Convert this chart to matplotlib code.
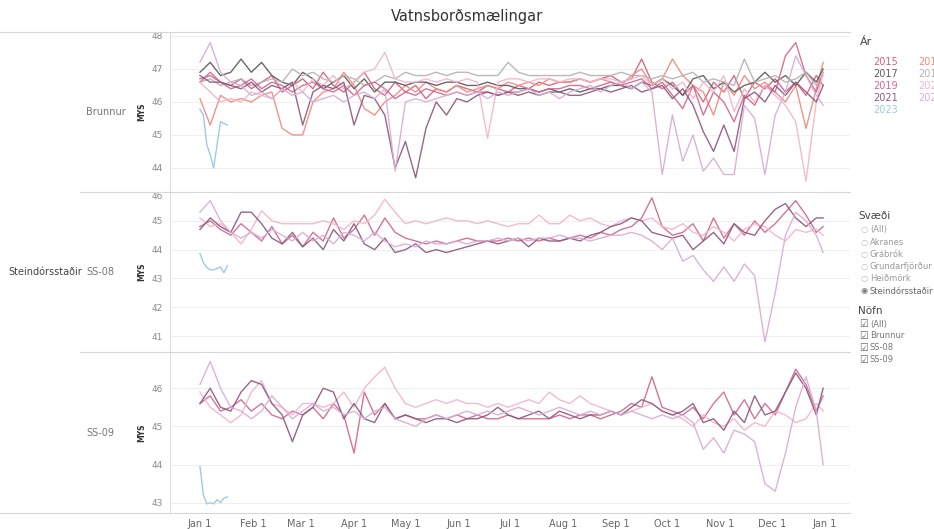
import matplotlib.pyplot as plt
from matplotlib.lines import Line2D

# --- data ---------------------------------------------------------------
# day of year (0 = Jan 1), sampled every 6 days
days = list(range(0, 361, 6)) + [364]
blue_days = [0, 2, 4, 6, 8, 10, 12, 14, 16]

years = ['2015', '2016', '2017', '2018', '2019', '2020', '2021', '2022', '2023']
year_colors = ['#d95f7b', '#f08a80', '#5c5c5c', '#b9b1b1', '#d2688e',
               '#f3b5c7', '#8d5a80', '#d7aed3', '#9dcbe7']

month_days = [0, 31, 59, 90, 120, 151, 181, 212, 243, 273, 304, 334, 365]
month_labels = ['Jan 1', 'Feb 1', 'Mar 1', 'Apr 1', 'May 1', 'Jun 1', 'Jul 1',
                'Aug 1', 'Sep 1', 'Oct 1', 'Nov 1', 'Dec 1', 'Jan 1']

brunnur_2015 = [46.7, 46.8, 46.6, 46.5, 46.7, 46.4, 46.6, 46.8, 46.3, 46.5,
                46.7, 46.4, 46.9, 46.5, 46.3, 46.6, 46.9, 46.4, 46.2, 46.6,
                46.3, 46.5, 46.1, 46.4, 46.3, 46.5, 46.4, 46.3, 46.5, 46.4,
                46.3, 46.5, 46.4, 46.6, 46.5, 46.6, 46.6, 46.7, 46.6, 46.7,
                46.8, 46.6, 46.7, 47.3, 46.6, 46.4, 46.6, 46.2, 46.5, 46.0,
                46.6, 46.3, 46.8, 46.1, 46.6, 46.4, 46.7, 46.3, 46.6, 46.2,
                46.8, 46.5]
brunnur_2016 = [46.1, 45.3, 46.2, 46.0, 46.1, 46.0, 46.2, 46.3, 45.2, 45.0,
                45.0, 46.0, 46.3, 46.4, 46.9, 46.5, 45.8, 45.6, 46.0, 46.2,
                46.5, 46.3, 46.6, 46.4, 46.3, 46.5, 46.3, 46.4, 46.5, 46.4,
                46.6, 46.5, 46.6, 46.5, 46.7, 46.6, 46.6, 46.7, 46.6, 46.7,
                46.6, 46.5, 46.8, 47.0, 46.5, 46.7, 47.3, 46.8, 46.5, 46.3,
                45.6, 46.6, 46.2, 46.8, 46.4, 46.6, 46.3, 46.0, 46.5, 45.2,
                46.4, 47.2]
brunnur_2017 = [46.9, 47.2, 46.8, 46.9, 47.3, 46.9, 47.2, 46.8, 46.6, 46.5,
                46.9, 46.7, 46.4, 46.6, 46.8, 46.4, 46.7, 46.3, 46.6, 46.6,
                46.5, 46.6, 46.6, 46.5, 46.6, 46.6, 46.5, 46.5, 46.6, 46.5,
                46.5, 46.4, 46.4, 46.3, 46.4, 46.3, 46.4, 46.3, 46.4, 46.4,
                46.5, 46.5, 46.4, 46.6, 46.5, 46.7, 46.5, 46.2, 46.7, 46.8,
                46.4, 46.6, 46.3, 46.5, 46.6, 46.9, 46.6, 46.8, 46.5, 46.9,
                46.6, 47.0]
brunnur_2018 = [46.6, 46.7, 46.5, 46.6, 46.7, 46.5, 46.6, 46.7, 46.6, 47.0,
                46.8, 46.9, 46.7, 46.6, 46.8, 46.7, 46.5, 46.6, 46.8, 46.7,
                46.9, 46.8, 46.8, 46.9, 46.8, 46.9, 46.9, 46.8, 46.8, 46.8,
                47.2, 46.9, 46.8, 46.8, 46.8, 46.8, 46.8, 46.9, 46.8, 46.8,
                46.8, 46.9, 46.8, 46.8, 46.7, 46.8, 46.7, 46.8, 46.9, 46.6,
                46.7, 46.6, 46.5, 47.3, 46.6, 46.7, 46.8, 46.6, 46.7, 46.9,
                46.5, 46.8]
brunnur_2019 = [46.6, 46.9, 46.6, 46.4, 46.5, 46.7, 46.4, 46.6, 46.5, 46.3,
                46.5, 46.6, 46.4, 46.3, 46.5, 46.2, 46.5, 46.6, 46.4, 46.1,
                46.3, 46.2, 46.4, 46.3, 46.2, 46.3, 46.2, 46.3, 46.3, 46.2,
                46.3, 46.3, 46.4, 46.3, 46.4, 46.4, 46.5, 46.5, 46.4, 46.5,
                46.6, 46.5, 46.6, 46.7, 46.4, 46.6, 46.2, 45.8, 46.5, 45.6,
                46.3, 46.0, 45.4, 46.2, 45.9, 46.5, 46.3, 47.4, 47.8, 46.8,
                46.3, 46.9]
brunnur_2020 = [46.6, 46.3, 46.0, 46.1, 46.0, 46.3, 46.2, 46.1, 46.4, 46.6,
                46.3, 46.7, 46.5, 46.8, 46.4, 46.6, 46.9, 47.0, 47.5, 46.7,
                46.6, 46.6, 46.7, 46.6, 46.7, 46.6, 46.7, 46.6, 44.9, 46.6,
                46.7, 46.7, 46.6, 46.7, 46.7, 46.6, 46.7, 46.7, 46.6, 46.7,
                46.7, 46.6, 46.7, 46.8, 46.5, 46.7, 46.4, 46.6, 46.1, 46.6,
                46.3, 46.8, 45.7, 46.4, 46.0, 46.5, 46.2, 45.9, 45.4, 43.6,
                46.0, 46.9]
brunnur_2021 = [46.8, 46.6, 46.6, 46.5, 46.4, 46.6, 46.3, 46.5, 46.4, 46.6,
                45.3, 46.3, 46.5, 46.4, 46.6, 45.3, 46.2, 46.1, 45.6, 44.0,
                44.8, 43.7, 45.2, 46.0, 45.6, 46.1, 46.0, 46.2, 46.3, 46.2,
                46.3, 46.2, 46.3, 46.2, 46.3, 46.3, 46.2, 46.2, 46.3, 46.4,
                46.3, 46.4, 46.5, 46.3, 46.4, 46.5, 46.1, 46.4, 45.9, 45.1,
                44.5, 45.3, 44.5, 46.1, 46.3, 46.0, 46.5, 46.2, 46.6, 46.3,
                46.0, 46.5]
brunnur_2022 = [47.2, 47.8, 46.9, 46.6, 46.5, 46.2, 46.3, 46.1, 46.4, 46.2,
                46.3, 46.0, 46.1, 46.2, 46.0, 46.2, 46.3, 46.1, 46.4, 43.9,
                46.0, 46.1, 46.0, 46.1, 46.2, 46.3, 46.2, 46.3, 46.1, 46.3,
                46.2, 46.3, 46.4, 46.2, 46.3, 46.1, 46.3, 46.4, 46.5, 46.3,
                46.5, 46.6, 46.4, 46.6, 46.3, 43.8, 45.6, 44.2, 45.0, 43.9,
                44.3, 43.8, 43.8, 45.9, 45.5, 43.8, 45.6, 46.3, 47.4, 46.8,
                46.2, 45.9]
brunnur_2023 = [45.78, 45.6, 44.7, 44.4, 44.0, 44.7, 45.4, 45.35, 45.3]

ss08_2019 = [44.8, 45.0, 44.7, 44.5, 44.9, 44.6, 44.3, 44.8, 44.2, 44.5,
             44.1, 44.6, 44.3, 45.1, 44.4, 44.7, 45.2, 44.5, 45.1, 44.6,
             44.4, 44.3, 44.2, 44.3, 44.2, 44.3, 44.4, 44.3, 44.3, 44.3,
             44.4, 44.3, 44.4, 44.3, 44.4, 44.3, 44.4, 44.5, 44.4, 44.6,
             44.5, 44.7, 44.8, 45.1, 45.8, 44.8, 44.5, 44.6, 44.9, 44.3,
             45.1, 44.4, 44.9, 44.5, 45.0, 44.6, 44.9, 45.3, 45.7, 45.2,
             44.6, 44.8]
ss08_2020 = [45.1, 44.8, 44.9, 44.6, 44.2, 44.7, 45.35, 45.0, 44.9, 44.9,
             44.9, 44.9, 45.0, 44.9, 44.7, 45.0, 44.9, 45.2, 45.75, 45.3,
             44.9, 45.0, 44.9, 45.0, 45.1, 45.0, 45.0, 44.9, 45.0, 44.9,
             44.8, 44.9, 44.9, 45.2, 44.9, 44.9, 45.2, 45.0, 45.1, 44.9,
             44.8, 45.0, 45.1, 45.0, 45.1, 44.8, 44.7, 44.9, 44.6, 44.5,
             44.8, 44.6, 44.3, 44.7, 44.9, 44.8, 44.5, 44.3, 44.7, 44.6,
             44.7, 44.5]
ss08_2021 = [44.7, 45.1, 44.8, 44.6, 45.3, 45.3, 44.9, 44.4, 44.2, 44.6,
             44.1, 44.4, 44.0, 44.7, 44.3, 44.9, 44.2, 44.0, 44.4, 43.9,
             44.0, 44.2, 43.9, 44.0, 43.9, 44.0, 44.1, 44.2, 44.3, 44.2,
             44.3, 44.4, 44.1, 44.4, 44.3, 44.3, 44.4, 44.3, 44.5, 44.6,
             44.8, 44.9, 45.1, 45.0, 44.6, 44.5, 44.4, 44.5, 44.0, 44.3,
             44.6, 44.2, 44.9, 44.6, 44.5, 45.0, 45.4, 45.6, 45.1, 44.8,
             45.1, 45.1]
ss08_2022 = [45.3, 45.7, 45.0, 44.6, 44.4, 44.6, 44.4, 44.7, 44.5, 44.3,
             44.6, 44.3, 44.5, 44.2, 44.6, 44.5, 44.3, 44.6, 44.3, 44.1,
             44.2, 44.1, 44.3, 44.2, 44.2, 44.3, 44.2, 44.3, 44.3, 44.4,
             44.3, 44.4, 44.3, 44.4, 44.4, 44.5, 44.4, 44.4, 44.3, 44.4,
             44.5, 44.5, 44.6, 44.5, 44.3, 44.0, 44.4, 43.6, 43.8, 43.3,
             42.9, 43.4, 42.9, 43.5, 43.1, 40.8, 42.5, 44.5, 45.3, 45.0,
             44.5, 43.9]
ss08_2023 = [43.87, 43.55, 43.38, 43.3, 43.3, 43.35, 43.4, 43.2, 43.45]

ss09_2019 = [45.6, 45.8, 45.4, 45.5, 45.7, 45.4, 45.6, 45.3, 45.2, 45.4,
             45.3, 45.5, 45.2, 45.6, 45.3, 44.3, 45.9, 45.3, 45.6, 45.2,
             45.3, 45.2, 45.2, 45.3, 45.2, 45.3, 45.2, 45.3, 45.2, 45.2,
             45.3, 45.2, 45.2, 45.2, 45.2, 45.3, 45.2, 45.3, 45.3, 45.2,
             45.3, 45.4, 45.6, 45.5, 46.3, 45.5, 45.4, 45.3, 45.5, 45.2,
             45.6, 45.9, 45.3, 45.7, 45.2, 45.6, 45.3, 45.9, 46.5, 46.1,
             45.4, 45.8]
ss09_2020 = [45.9, 45.5, 45.3, 45.1, 45.3, 45.9, 46.2, 45.6, 45.5, 45.3,
             45.6, 45.6, 45.5, 45.6, 45.9, 45.5, 46.0, 46.3, 46.55, 46.0,
             45.6, 45.5, 45.6, 45.7, 45.6, 45.7, 45.6, 45.6, 45.5, 45.6,
             45.5, 45.6, 45.7, 45.6, 45.9, 45.7, 45.6, 45.8, 45.6, 45.5,
             45.4, 45.3, 45.4, 45.5, 45.6, 45.4, 45.3, 45.2, 45.0, 45.3,
             45.1, 45.0, 45.2, 44.9, 45.1, 45.0, 45.4, 45.3, 45.1, 45.2,
             45.6, 45.4]
ss09_2021 = [45.6, 46.0, 45.5, 45.4, 45.9, 46.2, 46.1, 45.6, 45.3, 44.6,
             45.3, 45.5, 46.0, 45.9, 45.2, 45.6, 45.2, 45.1, 45.6, 45.2,
             45.3, 45.2, 45.1, 45.2, 45.2, 45.1, 45.2, 45.2, 45.3, 45.5,
             45.3, 45.2, 45.3, 45.4, 45.2, 45.4, 45.3, 45.2, 45.3, 45.3,
             45.4, 45.3, 45.5, 45.7, 45.6, 45.4, 45.3, 45.4, 45.6, 45.1,
             45.2, 44.9, 45.4, 45.1, 45.8, 45.3, 45.4, 45.9, 46.4, 46.0,
             45.3, 46.0]
ss09_2022 = [46.1, 46.7, 46.0, 45.5, 45.4, 45.2, 45.4, 45.8, 45.5, 45.2,
             45.4, 45.6, 45.4, 45.5, 45.3, 45.4, 45.2, 45.4, 45.5, 45.2,
             45.1, 45.0, 45.2, 45.3, 45.2, 45.3, 45.4, 45.3, 45.4, 45.3,
             45.4, 45.5, 45.4, 45.3, 45.4, 45.5, 45.4, 45.3, 45.4, 45.3,
             45.4, 45.3, 45.4, 45.3, 45.2, 45.3, 45.2, 45.3, 45.1, 44.4,
             44.7, 44.3, 44.9, 44.8, 44.6, 43.5, 43.3, 44.3, 45.5, 46.3,
             45.4, 44.0]
ss09_2023 = [43.95, 43.2, 42.97, 43.0, 42.97, 43.08, 43.0, 43.12, 43.15]

brunnur_ticks = [44, 45, 46, 47, 48]
ss08_ticks = [41, 42, 43, 44, 45, 46]
ss09_ticks = [43, 44, 45, 46]

svaedi_options = ['(All)', 'Akranes', 'Grábrók', 'Grundarfjörður', 'Heiðmörk', 'Steindórsstaðir']
nofn_options = ['(All)', 'Brunnur', 'SS-08', 'SS-09']

# --- figure -------------------------------------------------------------
W, H = 934, 529
fig = plt.figure(figsize=(W / 100, H / 100), dpi=100)


def fx(px):
    return px / W


def fy(py):
    return 1 - py / H


panels = [
    ('Brunnur', 32, 192, (43.27, 48.12), brunnur_ticks,
     [brunnur_2015, brunnur_2016, brunnur_2017, brunnur_2018, brunnur_2019,
      brunnur_2020, brunnur_2021, brunnur_2022], years[:8], brunnur_2023),
    ('SS-08', 192, 352, (40.45, 46.0), ss08_ticks,
     [ss08_2019, ss08_2020, ss08_2021, ss08_2022], years[4:8], ss08_2023),
    ('SS-09', 352, 513, (42.73, 46.95), ss09_ticks,
     [ss09_2019, ss09_2020, ss09_2021, ss09_2022], years[4:8], ss09_2023),
]

grid_col = '#efefef'
sep_col = '#d6d6d6'

for k, (name, top, bottom, ylim, ticks, series, yrs, blue) in enumerate(panels):
    ax = fig.add_axes([fx(170), fy(bottom), fx(850) - fx(170), (bottom - top) / H])
    for vals, yr in zip(series, yrs):
        c = year_colors[years.index(yr)]
        ax.plot(days, vals, color=c, lw=1.0, alpha=0.92, solid_joinstyle='round')
    ax.plot(blue_days, blue, color=year_colors[-1], lw=1.0)

    ax.set_xlim(-17.5, 379.7)
    ax.set_ylim(*ylim)
    ax.set_yticks(ticks, [str(t) for t in ticks])
    for t in ticks:
        ax.axhline(t, color=grid_col, lw=0.7, zorder=0)
    for lab in ax.get_yticklabels():
        if lab.get_text() == str(int(ylim[1])) and ylim[1] - int(ylim[1]) < 0.05:
            lab.set_verticalalignment('top')
    ax.tick_params(axis='y', length=0, labelsize=6.5, labelcolor='#8a8a8a', pad=5)
    if k == 2:
        ax.set_xticks(month_days, month_labels)
        ax.tick_params(axis='x', length=0, labelsize=7, labelcolor='#666666', pad=4)
    else:
        ax.set_xticks([])
    for s in ['top', 'right', 'bottom']:
        ax.spines[s].set_visible(False)
    ax.spines['left'].set_color('#dddddd')
    ax.spines['left'].set_linewidth(0.8)

    mid = fy((top + bottom) / 2)
    fig.text(fx(86), mid, name, fontsize=7, color='#777777', ha='left', va='center')
    fig.text(fx(142), mid, 'MYS', fontsize=5.5, color='#333333', rotation=90,
             ha='center', va='center', fontweight='bold')

# separators
for py, x0 in [(32, 0), (192, 80), (352, 80), (513, 0)]:
    fig.add_artist(Line2D([fx(x0), fx(850)], [fy(py), fy(py)], color=sep_col, lw=0.8))

fig.text(fx(8), fy(272), 'Steindórsstaðir', fontsize=7, color='#444444', ha='left', va='center')
fig.text(0.5, fy(17), 'Vatnsborðsmælingar', fontsize=10.5, color='#333333', ha='center', va='center')

# year legend (cut off at right edge, like the dashboard)
fig.text(fx(860), fy(42), 'Ár', fontsize=8, color='#444444', va='center')
for i, yr in enumerate(years):
    col = i % 2
    row = i // 2
    fig.text(fx(873 + 45 * col), fy(62 + 12 * row), yr, fontsize=7,
             color=year_colors[i], va='center')

# Svæði filter
fig.text(fx(858), fy(216), 'Svæði', fontsize=7.5, color='#444444', va='center')
for i, opt in enumerate(svaedi_options):
    yy = fy(230 + 12.2 * i)
    sel = opt == 'Steindórsstaðir'
    fig.text(fx(864), yy, '◉' if sel else '○', fontsize=6, color='#777777' if sel else '#bbbbbb',
             ha='center', va='center')
    fig.text(fx(870), yy, opt, fontsize=6, color='#666666' if sel else '#999999', va='center')

# Nöfn filter
fig.text(fx(858), fy(311), 'Nöfn', fontsize=7.5, color='#444444', va='center')
for i, opt in enumerate(nofn_options):
    yy = fy(324 + 12 * i)
    fig.text(fx(864), yy, '☑', fontsize=7, color='#666666', ha='center', va='center')
    fig.text(fx(870), yy, opt, fontsize=6, color='#777777', va='center')

fig.savefig('out.png', dpi=100, facecolor='white')
